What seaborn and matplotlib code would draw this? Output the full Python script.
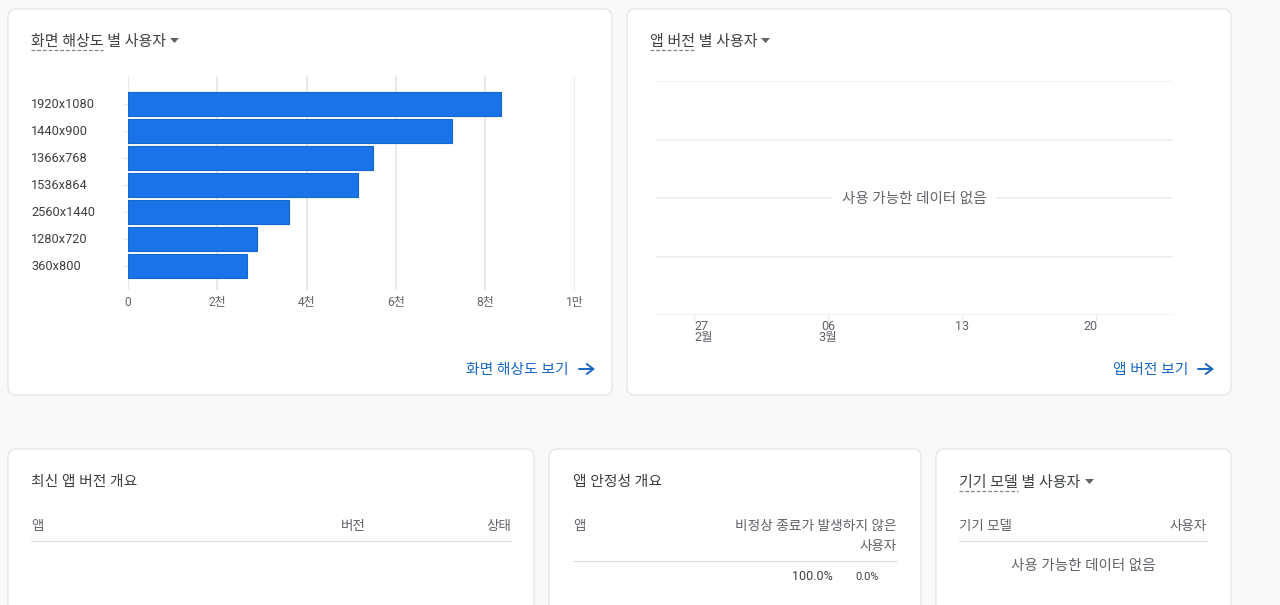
import matplotlib
matplotlib.use('Agg')
import matplotlib.pyplot as plt
from matplotlib.patches import FancyBboxPatch, Polygon
from matplotlib.transforms import ScaledTranslation
import pandas as pd
import seaborn as sns

# data
resolutions = ['1920x1080', '1440x900', '1366x768', '1536x864', '2560x1440', '1280x720', '360x800']
users = [8345, 7250, 5490, 5140, 3595, 2900, 2675]
bar_ticks = [0, 2000, 4000, 6000, 8000, 10000]
bar_tick_labels = ['0', '2천', '4천', '6천', '8천', '1만']
version_ticks = [0, 7, 14, 21]
version_levels = [0, 1, 2, 3, 4]

sns.set_theme(style='white')
plt.rcParams['font.family'] = ['Roboto', 'Noto Sans CJK KR', 'DejaVu Sans']

W, H = 1280, 605
PX = 0.72  # points per pixel at dpi 100
BG = '#f8f9fa'
BORDER = '#e0e2e5'
GRID = '#e8eaed'
DARK = '#3c4043'
MID = '#5f6368'
LINK = '#1967c2'


def px_axes(x0, y0, x1, y1):
    return fig.add_axes([x0 / W, 1 - y1 / H, (x1 - x0) / W, (y1 - y0) / H])


def label(x, y, s, size=14.8, color=DARK, ha='left', **kw):
    bg.text(x, y + 1, s, fontsize=size * PX, color=color, ha=ha, va='center', **kw)


fig = plt.figure(figsize=(W / 100, H / 100), dpi=100, facecolor=BG)

# pixel canvas behind everything for the cards and page text
bg = fig.add_axes([0, 0, 1, 1])
bg.set_xlim(0, W)
bg.set_ylim(H, 0)
bg.axis('off')

cards = [(8, 9, 612, 395), (627, 9, 1231, 395),
         (8, 449, 534, 640), (549, 449, 921, 640), (936, 449, 1231, 640)]
for x0, y0, x1, y1 in cards:
    bg.add_patch(FancyBboxPatch((x0 + 8, y0 + 8), x1 - x0 - 16, y1 - y0 - 16,
                                boxstyle='round,pad=8,rounding_size=8',
                                fc='white', ec=BORDER, lw=0.8))


def dropdown_title(x, y, s, dash_end, tri_x):
    label(x, y + 1, s, size=15, color=DARK)
    bg.plot([x, dash_end], [y + 10, y + 10], color='#80868b', lw=0.9, ls=(0, (3, 1.6)))
    bg.add_patch(Polygon([(tri_x, y - 2), (tri_x + 9, y - 2), (tri_x + 4.5, y + 3)],
                         closed=True, fc=MID, ec='none'))


def link(x_right, y, s):
    label(x_right - 26, y, s, color=LINK, ha='right')
    bg.annotate('', xy=(x_right, y), xytext=(x_right - 16, y),
                arrowprops=dict(arrowstyle='->,head_length=0.4,head_width=0.3',
                                color=LINK, lw=1.4, shrinkA=0, shrinkB=0))


dropdown_title(31, 40, '화면 해상도 별 사용자', 103, 170)
dropdown_title(650, 40, '앱 버전 별 사용자', 694, 761)
dropdown_title(959, 481, '기기 모델 별 사용자', 1018, 1085)
link(595, 369, '화면 해상도 보기')
link(1214, 369, '앱 버전 보기')

# bar chart
ax = px_axes(128, 76, 574.5, 290)
df = pd.DataFrame({'resolution': resolutions, 'users': users})
sns.barplot(data=df, x='users', y='resolution', ax=ax, color='#1a73e8', saturation=1,
            width=0.89, edgecolor='#1666d0', linewidth=0.8, zorder=3)
ax.patch.set_alpha(0)
ax.set_xlim(0, 10000)
ax.set_ylim((290 - 104) / 27, (76 - 104) / 27)
ax.set_xlabel('')
ax.set_ylabel('')
ax.set_xticks(bar_ticks)
ax.set_xticklabels(bar_tick_labels)
ax.xaxis.grid(True, color=GRID, lw=1.5, zorder=0)
ax.set_axisbelow(True)
sns.despine(ax=ax, left=True, bottom=True, top=True, right=True)
ax.tick_params(axis='x', length=0, pad=4.5, labelsize=12 * PX, labelcolor=MID)
ax.tick_params(axis='y', length=5 * PX, width=1, color=GRID, pad=66,
               labelsize=12.8 * PX, labelcolor=DARK, left=True)
shift_up = ScaledTranslation(0, 1 / 100, fig.dpi_scale_trans)
for t in ax.get_yticklabels():
    t.set_ha('left')
    t.set_transform(t.get_transform() + shift_up)

# empty version chart
ax2 = px_axes(655, 81, 1173, 315)
ax2.patch.set_alpha(0)
ax2.set_xlim(-39 / (134 / 7), (1173 - 694) / (134 / 7))
ax2.set_ylim(0, 4)
ax2.set_yticks(version_levels)
ax2.set_yticklabels([])
ax2.yaxis.grid(True, color='#eceef0', lw=1.1)
ax2.set_xticks(version_ticks)
ax2.set_xticklabels([])
ax2.tick_params(axis='x', length=4, width=1, color=GRID, bottom=True)
ax2.tick_params(axis='y', length=0)
sns.despine(ax=ax2, left=True, bottom=True, top=True, right=True)
label(694, 325, '27', size=12.5, color=MID)
label(694, 337, '2월', size=12.5, color=MID)
label(828, 325, '06', size=12.5, color=MID, ha='center')
label(828, 337, '3월', size=12.5, color=MID, ha='center')
label(962, 325, '13', size=12.5, color=MID, ha='center')
label(1090, 325, '20', size=12.5, color=MID, ha='center')
fig.text(914 / W, 1 - 199 / H, '사용 가능한 데이터 없음', fontsize=14.5 * PX, color=MID,
         ha='center', va='center', zorder=5,
         bbox=dict(fc='white', ec='none', pad=7))

# bottom cards
label(31, 481, '최신 앱 버전 개요')
label(31, 525, '앱', size=13.5, color=MID)
label(366, 525, '버전', size=13.5, color=MID, ha='right')
label(511, 525, '상태', size=13.5, color=MID, ha='right')
bg.plot([31, 511], [541, 541], color=BORDER, lw=1)

label(573, 481, '앱 안정성 개요')
label(573, 525, '앱', size=13.5, color=MID)
label(897, 525, '비정상 종료가 발생하지 않은', size=13.7, color=MID, ha='right')
label(897, 545, '사용자', size=13.5, color=MID, ha='right')
bg.plot([573, 897], [561, 561], color=BORDER, lw=1)
label(833, 575, '100.0%', size=12.5, color=DARK, ha='right')
label(879, 576, '0.0%', size=11, color=DARK, ha='right')

label(959, 525, '기기 모델', size=13.5, color=MID)
label(1207, 525, '사용자', size=13.5, color=MID, ha='right')
bg.plot([959, 1207], [541, 541], color=BORDER, lw=1)
label(1083, 565, '사용 가능한 데이터 없음', size=14.5, color=MID, ha='center')

fig.savefig('out.png', dpi=100, facecolor=BG)
